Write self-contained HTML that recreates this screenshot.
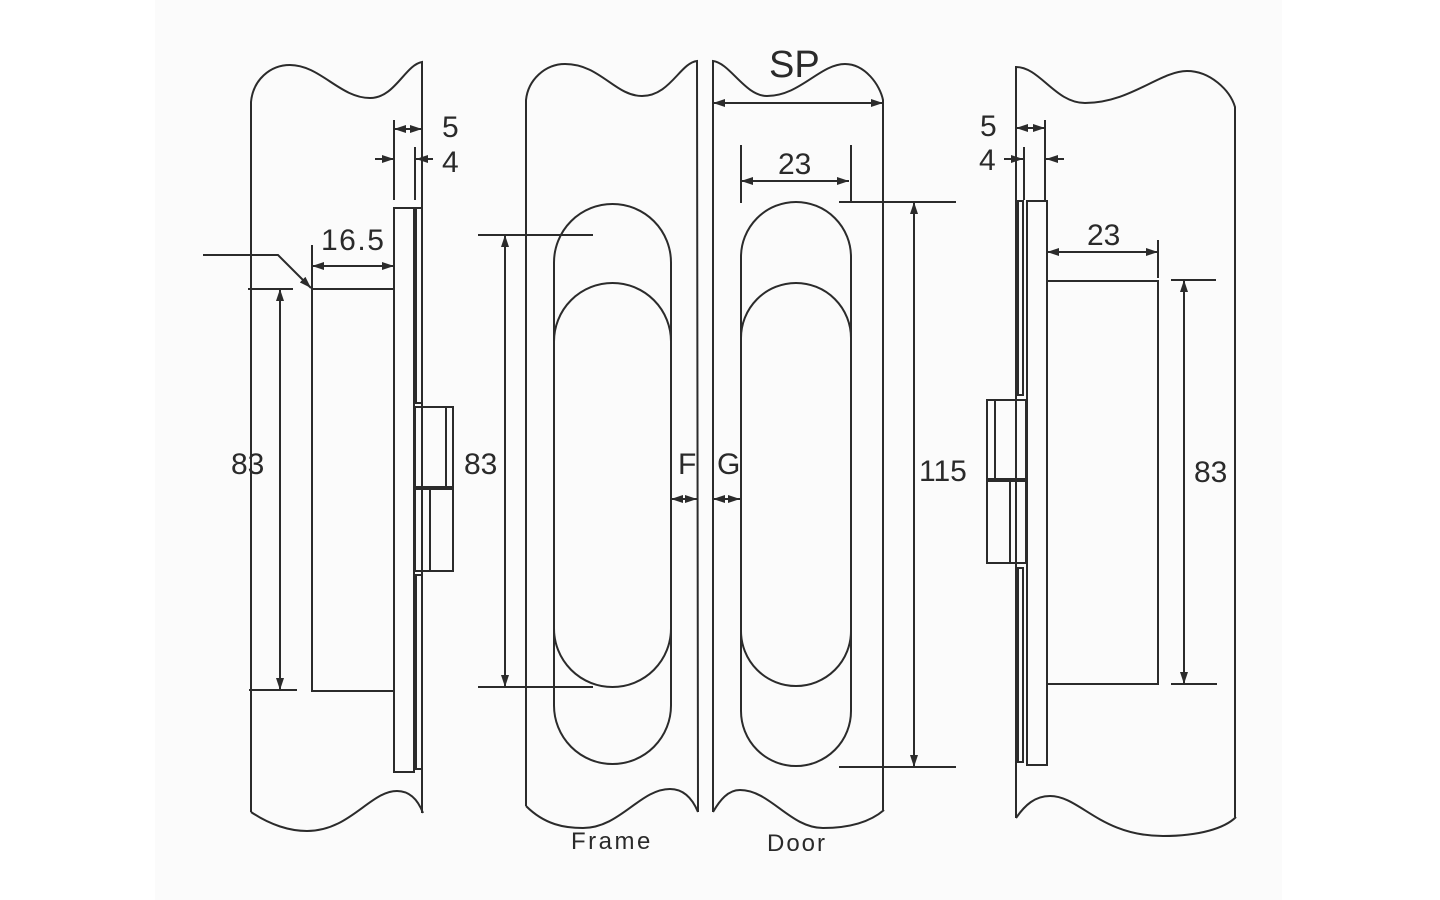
<!DOCTYPE html>
<html><head><meta charset="utf-8"><style>
html,body{margin:0;padding:0;background:#fff;}
svg{display:block;}
text{font-family:"Liberation Sans",Arial,sans-serif;fill:#2a2a2a;}
</style></head><body>
<svg width="1440" height="900" viewBox="0 0 1440 900" xmlns="http://www.w3.org/2000/svg">
<defs>
<marker id="a" viewBox="0 0 12 8" refX="12" refY="4" markerWidth="12" markerHeight="8" orient="auto-start-reverse" markerUnits="userSpaceOnUse"><path d="M0,0 L12,4 L0,8 Z" fill="#2b2b2b"/></marker>
</defs>
<rect x="0" y="0" width="1440" height="900" fill="#ffffff"/>
<rect x="155" y="0" width="1127" height="900" fill="#fbfbfb"/>
<g fill="none" stroke="#2b2b2b" stroke-width="2">
<!-- LEFT PANEL -->
<path d="M251,812 L251,102 C253,80 270,65 290,65 C320,65 340,98 370,98 C395,98 405,65 422,62 L422,813"/>
<path d="M251,812 C270,825 290,831 307,831 C350,831 370,791 397,791 C410,791 418,800 423,813"/>
<rect x="394" y="208" width="20" height="564"/>
<rect x="416" y="208" width="6" height="195"/>
<rect x="415" y="407" width="38" height="164"/>
<line x1="415" y1="488" x2="453" y2="488" stroke-width="4"/>
<line x1="446" y1="407" x2="446" y2="488"/>
<line x1="430" y1="488" x2="430" y2="571"/>
<rect x="416" y="575" width="6" height="194"/>
<polyline points="394,289 312,289 312,691 394,691"/>
<!-- left dims -->
<line x1="394" y1="120" x2="394" y2="200"/>
<line x1="415" y1="147" x2="415" y2="200"/>
<line x1="394" y1="129" x2="422" y2="129" marker-start="url(#a)" marker-end="url(#a)"/>
<line x1="375" y1="159" x2="394" y2="159" marker-end="url(#a)"/>
<line x1="433" y1="159" x2="416" y2="159" marker-end="url(#a)"/>
<line x1="312" y1="245" x2="312" y2="289"/>
<line x1="312" y1="266" x2="394" y2="266" marker-start="url(#a)" marker-end="url(#a)"/>
<polyline points="203,255 278,255 311,288" marker-end="url(#a)"/>
<line x1="248" y1="289" x2="293" y2="289"/>
<line x1="249" y1="690" x2="297" y2="690"/>
<line x1="280" y1="289" x2="280" y2="690" marker-start="url(#a)" marker-end="url(#a)"/>

<!-- FRAME -->
<path d="M526,806 L526,100 C528,80 545,64 565,64 C600,64 615,96 642,96 C670,96 680,63 697,61 L698,812"/>
<path d="M526,806 C545,825 565,828 583,828 C620,828 640,789 670,789 C685,789 693,800 698,812"/>
<path d="M554,262.5 A58.5,58.5 0 0 1 671,262.5 L671,628.5 A58.5,58.5 0 0 1 554,628.5 Z"/>
<path d="M554,341.5 A58.5,58.5 0 0 1 671,341.5 L671,705.5 A58.5,58.5 0 0 1 554,705.5 Z"/>
<line x1="478" y1="235" x2="593" y2="235"/>
<line x1="478" y1="687" x2="593" y2="687"/>
<line x1="505" y1="235" x2="505" y2="687" marker-start="url(#a)" marker-end="url(#a)"/>
<line x1="671" y1="499" x2="697" y2="499" marker-start="url(#a)" marker-end="url(#a)"/>

<!-- DOOR -->
<path d="M713,812 L713,61 C730,63 745,96 767,96 C800,96 820,64 845,64 C865,64 880,85 883,100 L883,810"/>
<path d="M713,812 C720,800 728,790 740,790 C770,790 790,828 823,828 C850,828 870,822 884,810"/>
<path d="M741,257 A55,55 0 0 1 851,257 L851,631 A55,55 0 0 1 741,631 Z"/>
<path d="M741,338 A55,55 0 0 1 851,338 L851,711 A55,55 0 0 1 741,711 Z"/>
<line x1="713" y1="103" x2="883" y2="103" marker-start="url(#a)" marker-end="url(#a)"/>
<line x1="741" y1="145" x2="741" y2="203"/>
<line x1="851" y1="145" x2="851" y2="202"/>
<line x1="741" y1="181" x2="849" y2="181" marker-start="url(#a)" marker-end="url(#a)"/>
<line x1="839" y1="202" x2="956" y2="202"/>
<line x1="839" y1="767" x2="956" y2="767"/>
<line x1="914" y1="202" x2="914" y2="767" marker-start="url(#a)" marker-end="url(#a)"/>
<line x1="713" y1="499" x2="740" y2="499" marker-start="url(#a)" marker-end="url(#a)"/>

<!-- RIGHT PANEL -->
<path d="M1016,818 L1016,67 C1040,67 1055,103 1085,103 C1130,103 1160,71 1187,71 C1210,71 1230,90 1235,107 L1235,817"/>
<path d="M1016,818 C1025,805 1035,796 1050,796 C1080,796 1100,836 1163,836 C1200,836 1225,828 1236,817"/>
<rect x="1018" y="201" width="5" height="194"/>
<rect x="1027" y="201" width="20" height="564"/>
<rect x="987" y="400" width="39" height="163"/>
<line x1="987" y1="480" x2="1026" y2="480" stroke-width="4"/>
<line x1="995" y1="400" x2="995" y2="480"/>
<line x1="1010" y1="480" x2="1010" y2="563"/>
<rect x="1018" y="568" width="5" height="194"/>
<polyline points="1047,281 1158,281 1158,684 1047,684"/>
<line x1="1045" y1="120" x2="1045" y2="200"/>
<line x1="1024" y1="147" x2="1024" y2="200"/>
<line x1="1016" y1="128" x2="1045" y2="128" marker-start="url(#a)" marker-end="url(#a)"/>
<line x1="1004" y1="159" x2="1023" y2="159" marker-end="url(#a)"/>
<line x1="1064" y1="159" x2="1046" y2="159" marker-end="url(#a)"/>
<line x1="1158" y1="240" x2="1158" y2="278"/>
<line x1="1047" y1="252" x2="1158" y2="252" marker-start="url(#a)" marker-end="url(#a)"/>
<line x1="1171" y1="280" x2="1216" y2="280"/>
<line x1="1171" y1="684" x2="1217" y2="684"/>
<line x1="1184" y1="280" x2="1184" y2="684" marker-start="url(#a)" marker-end="url(#a)"/>
</g>

<!-- TEXT -->
<g font-size="30">
<text x="442" y="137">5</text>
<text x="442" y="172">4</text>
<text x="321" y="250" letter-spacing="1.5">16.5</text>
<text x="231" y="474">83</text>
<text x="464" y="474">83</text>
<text x="678" y="474">F</text>
<text x="717" y="474">G</text>
<text x="778" y="174">23</text>
<text x="919" y="481">115</text>
<text x="1087" y="245">23</text>
<text x="1194" y="482">83</text>
<text x="980" y="136">5</text>
<text x="979" y="170">4</text>
</g>
<text x="769" y="77" font-size="38">SP</text>
<text x="571" y="849" font-size="24" letter-spacing="2.5">Frame</text>
<text x="767" y="851" font-size="24" letter-spacing="2">Door</text>
</svg>
</body></html>
